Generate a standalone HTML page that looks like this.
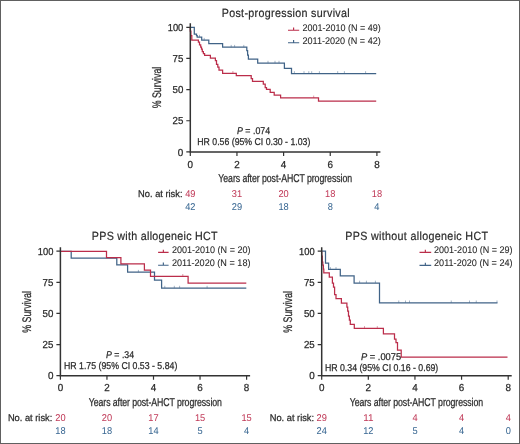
<!DOCTYPE html>
<html><head><meta charset="utf-8"><title>Post-progression survival</title>
<style>html,body{margin:0;padding:0;background:#fff;width:520px;height:444px;overflow:hidden;font-family:"Liberation Sans", sans-serif;}</style>
</head><body>
<svg width="520" height="444" viewBox="0 0 520 444" style="will-change:transform;text-rendering:geometricPrecision;display:block;font-family:'Liberation Sans', sans-serif">
<rect x="0" y="0" width="520" height="444" fill="#ffffff"/>
<path d="M190.3,27.3 H194.3 V34 H196.5 V35.5 H197.2 V37.1 H201.7 V40.2 H208.8 V43.6 H222.6 V47.2 H246.8 V50.5 H247.6 V55 H248.4 V59.1 H257.7 V63.1 H284.4 V68.3 H291.5 V73.5 H376.2" fill="none" stroke="#406387" stroke-width="1.25" stroke-linejoin="miter"/>
<path d="M199.5,37.1 V34.8 M204.2,40.2 V37.9 M231.2,47.2 V44.9 M234.6,47.2 V44.9 M243.8,47.2 V44.9 M268,63.1 V60.8 M275,63.1 V60.8 M279,63.1 V60.8 M294.4,73.5 V71.2 M304,73.5 V71.2 M308.8,73.5 V71.2 M311.7,73.5 V71.2 M319.4,73.5 V71.2 M337.7,73.5 V71.2 M344.4,73.5 V71.2 M365.6,73.5 V71.2 " fill="none" stroke="#406387" stroke-width="0.6" opacity="0.8"/>
<path d="M190.3,27.3 V31 H190.9 V35.5 H191.8 V40.2 H198.4 V42.1 H199.5 V44.8 H200.7 V47.1 H201.5 V49.2 H202.3 V51.5 H203.4 V53.5 H204.6 V55.3 H210.4 V58 H215.4 V60.5 H216.5 V64.3 H217.8 V67 H219 V70.2 H222.6 V73.3 H236.3 V75.7 H251.2 V78.5 H252.5 V81.3 H263.3 V84 H265.2 V87.5 H266.5 V89.4 H270.2 V92.3 H274.2 V95.2 H280.6 V97.9 H318.5 V101 H376.2" fill="none" stroke="#bb2d4a" stroke-width="1.25" stroke-linejoin="miter"/>
<path d="M232.9,73.3 V71.0 M313.7,97.9 V95.6 " fill="none" stroke="#bb2d4a" stroke-width="0.6" opacity="0.8"/>
<path d="M190.3,23.3 V151.9 H380.4" fill="none" stroke="#333333" stroke-width="1.5"/>
<path d="M186.3,151.90 H190.3 M190.30,151.9 V155.9 M186.3,120.75 H190.3 M236.95,151.9 V155.9 M186.3,89.60 H190.3 M283.60,151.9 V155.9 M186.3,58.45 H190.3 M330.25,151.9 V155.9 M186.3,27.30 H190.3 M376.90,151.9 V155.9 " fill="none" stroke="#333333" stroke-width="1.2"/>
<text x="183.3" y="155.6" font-size="10.1" fill="#2a2a2a" stroke="#2a2a2a" stroke-width="0.25" text-anchor="end" textLength="5.5" lengthAdjust="spacingAndGlyphs" >0</text>
<text x="183.3" y="124.45" font-size="10.1" fill="#2a2a2a" stroke="#2a2a2a" stroke-width="0.25" text-anchor="end" textLength="10.8" lengthAdjust="spacingAndGlyphs" >25</text>
<text x="183.3" y="93.3" font-size="10.1" fill="#2a2a2a" stroke="#2a2a2a" stroke-width="0.25" text-anchor="end" textLength="10.8" lengthAdjust="spacingAndGlyphs" >50</text>
<text x="183.3" y="62.15" font-size="10.1" fill="#2a2a2a" stroke="#2a2a2a" stroke-width="0.25" text-anchor="end" textLength="10.8" lengthAdjust="spacingAndGlyphs" >75</text>
<text x="183.3" y="31.0" font-size="10.1" fill="#2a2a2a" stroke="#2a2a2a" stroke-width="0.25" text-anchor="end" textLength="15.6" lengthAdjust="spacingAndGlyphs" >100</text>
<text x="190.3" y="167.70000000000002" font-size="10.1" fill="#2a2a2a" stroke="#2a2a2a" stroke-width="0.25" text-anchor="middle" textLength="5.5" lengthAdjust="spacingAndGlyphs" >0</text>
<text x="236.95" y="167.70000000000002" font-size="10.1" fill="#2a2a2a" stroke="#2a2a2a" stroke-width="0.25" text-anchor="middle" textLength="5.5" lengthAdjust="spacingAndGlyphs" >2</text>
<text x="283.6" y="167.70000000000002" font-size="10.1" fill="#2a2a2a" stroke="#2a2a2a" stroke-width="0.25" text-anchor="middle" textLength="5.5" lengthAdjust="spacingAndGlyphs" >4</text>
<text x="330.25" y="167.70000000000002" font-size="10.1" fill="#2a2a2a" stroke="#2a2a2a" stroke-width="0.25" text-anchor="middle" textLength="5.5" lengthAdjust="spacingAndGlyphs" >6</text>
<text x="376.9" y="167.70000000000002" font-size="10.1" fill="#2a2a2a" stroke="#2a2a2a" stroke-width="0.25" text-anchor="middle" textLength="5.5" lengthAdjust="spacingAndGlyphs" >8</text>
<path d="M60.4,251.3 H71.2 V258.1 H116.8 V264.8 H127.6 V272.2 H154.5 V280 H161.6 V288.1 H246.3" fill="none" stroke="#406387" stroke-width="1.25" stroke-linejoin="miter"/>
<path d="M138.4,272.2 V269.9 M164.8,288.1 V285.8 M174.3,288.1 V285.8 M179.6,288.1 V285.8 M207.1,288.1 V285.8 " fill="none" stroke="#406387" stroke-width="0.6" opacity="0.8"/>
<path d="M60.4,251.3 H106.5 V257.7 H120.9 V263.9 H144.4 V270.2 H150.5 V276.3 H188.1 V283.2 H246.3" fill="none" stroke="#bb2d4a" stroke-width="1.25" stroke-linejoin="miter"/>
<path d="M182.8,276.3 V274.0 " fill="none" stroke="#bb2d4a" stroke-width="0.6" opacity="0.8"/>
<path d="M60.4,247.2 V375.7 H250.1" fill="none" stroke="#333333" stroke-width="1.5"/>
<path d="M56.4,375.70 H60.4 M60.40,375.7 V379.7 M56.4,344.57 H60.4 M106.95,375.7 V379.7 M56.4,313.45 H60.4 M153.50,375.7 V379.7 M56.4,282.32 H60.4 M200.05,375.7 V379.7 M56.4,251.20 H60.4 M246.60,375.7 V379.7 " fill="none" stroke="#333333" stroke-width="1.2"/>
<text x="53.4" y="379.4" font-size="10.1" fill="#2a2a2a" stroke="#2a2a2a" stroke-width="0.25" text-anchor="end" textLength="5.5" lengthAdjust="spacingAndGlyphs" >0</text>
<text x="53.4" y="348.27" font-size="10.1" fill="#2a2a2a" stroke="#2a2a2a" stroke-width="0.25" text-anchor="end" textLength="10.8" lengthAdjust="spacingAndGlyphs" >25</text>
<text x="53.4" y="317.15" font-size="10.1" fill="#2a2a2a" stroke="#2a2a2a" stroke-width="0.25" text-anchor="end" textLength="10.8" lengthAdjust="spacingAndGlyphs" >50</text>
<text x="53.4" y="286.02" font-size="10.1" fill="#2a2a2a" stroke="#2a2a2a" stroke-width="0.25" text-anchor="end" textLength="10.8" lengthAdjust="spacingAndGlyphs" >75</text>
<text x="53.4" y="254.9" font-size="10.1" fill="#2a2a2a" stroke="#2a2a2a" stroke-width="0.25" text-anchor="end" textLength="15.6" lengthAdjust="spacingAndGlyphs" >100</text>
<text x="60.4" y="391.09999999999997" font-size="10.1" fill="#2a2a2a" stroke="#2a2a2a" stroke-width="0.25" text-anchor="middle" textLength="5.5" lengthAdjust="spacingAndGlyphs" >0</text>
<text x="106.95" y="391.09999999999997" font-size="10.1" fill="#2a2a2a" stroke="#2a2a2a" stroke-width="0.25" text-anchor="middle" textLength="5.5" lengthAdjust="spacingAndGlyphs" >2</text>
<text x="153.5" y="391.09999999999997" font-size="10.1" fill="#2a2a2a" stroke="#2a2a2a" stroke-width="0.25" text-anchor="middle" textLength="5.5" lengthAdjust="spacingAndGlyphs" >4</text>
<text x="200.05" y="391.09999999999997" font-size="10.1" fill="#2a2a2a" stroke="#2a2a2a" stroke-width="0.25" text-anchor="middle" textLength="5.5" lengthAdjust="spacingAndGlyphs" >6</text>
<text x="246.6" y="391.09999999999997" font-size="10.1" fill="#2a2a2a" stroke="#2a2a2a" stroke-width="0.25" text-anchor="middle" textLength="5.5" lengthAdjust="spacingAndGlyphs" >8</text>
<path d="M321.7,251.2 H325.5 V263.1 H328.6 V269.4 H340.3 V275.8 H354.1 V283 H379.5 V302.8 H497.5" fill="none" stroke="#406387" stroke-width="1.25" stroke-linejoin="miter"/>
<path d="M330.4,269.4 V267.1 M336,269.4 V267.1 M359.6,283 V280.7 M366.4,283 V280.7 M375.4,283 V280.7 M398.75,302.8 V300.5 M405.5,302.8 V300.5 M409.5,302.8 V300.5 M451.25,302.8 V300.5 M469.5,302.8 V300.5 M476.25,302.8 V300.5 M497,302.8 V300.5 " fill="none" stroke="#406387" stroke-width="0.6" opacity="0.8"/>
<path d="M321.7,251.2 V256 H322.3 V262 H322.8 V265 H323.4 V269 H323.8 V272.8 H329.3 V277 H332.4 V283 H333.5 V287 H334.6 V294.5 H336 V298.5 H341.4 V303 H346.9 V307 H347.7 V311 H348.5 V316 H349.4 V320 H350.3 V324.3 H354.3 V328.4 H383.4 V333.8 H394.5 V339 H396 V342.5 H397.5 V350 H401.2 V357 H507.5" fill="none" stroke="#bb2d4a" stroke-width="1.25" stroke-linejoin="miter"/>
<path d="M364.5,328.4 V326.1 M377.3,328.4 V326.1 " fill="none" stroke="#bb2d4a" stroke-width="0.6" opacity="0.8"/>
<path d="M321.7,247.2 V375.7 H511.7" fill="none" stroke="#333333" stroke-width="1.5"/>
<path d="M317.7,375.70 H321.7 M321.70,375.7 V379.7 M317.7,344.57 H321.7 M368.32,375.7 V379.7 M317.7,313.45 H321.7 M414.95,375.7 V379.7 M317.7,282.32 H321.7 M461.57,375.7 V379.7 M317.7,251.20 H321.7 M508.20,375.7 V379.7 " fill="none" stroke="#333333" stroke-width="1.2"/>
<text x="314.7" y="379.4" font-size="10.1" fill="#2a2a2a" stroke="#2a2a2a" stroke-width="0.25" text-anchor="end" textLength="5.5" lengthAdjust="spacingAndGlyphs" >0</text>
<text x="314.7" y="348.27" font-size="10.1" fill="#2a2a2a" stroke="#2a2a2a" stroke-width="0.25" text-anchor="end" textLength="10.8" lengthAdjust="spacingAndGlyphs" >25</text>
<text x="314.7" y="317.15" font-size="10.1" fill="#2a2a2a" stroke="#2a2a2a" stroke-width="0.25" text-anchor="end" textLength="10.8" lengthAdjust="spacingAndGlyphs" >50</text>
<text x="314.7" y="286.02" font-size="10.1" fill="#2a2a2a" stroke="#2a2a2a" stroke-width="0.25" text-anchor="end" textLength="10.8" lengthAdjust="spacingAndGlyphs" >75</text>
<text x="314.7" y="254.9" font-size="10.1" fill="#2a2a2a" stroke="#2a2a2a" stroke-width="0.25" text-anchor="end" textLength="15.6" lengthAdjust="spacingAndGlyphs" >100</text>
<text x="321.7" y="391.09999999999997" font-size="10.1" fill="#2a2a2a" stroke="#2a2a2a" stroke-width="0.25" text-anchor="middle" textLength="5.5" lengthAdjust="spacingAndGlyphs" >0</text>
<text x="368.32" y="391.09999999999997" font-size="10.1" fill="#2a2a2a" stroke="#2a2a2a" stroke-width="0.25" text-anchor="middle" textLength="5.5" lengthAdjust="spacingAndGlyphs" >2</text>
<text x="414.95" y="391.09999999999997" font-size="10.1" fill="#2a2a2a" stroke="#2a2a2a" stroke-width="0.25" text-anchor="middle" textLength="5.5" lengthAdjust="spacingAndGlyphs" >4</text>
<text x="461.57" y="391.09999999999997" font-size="10.1" fill="#2a2a2a" stroke="#2a2a2a" stroke-width="0.25" text-anchor="middle" textLength="5.5" lengthAdjust="spacingAndGlyphs" >6</text>
<text x="508.2" y="391.09999999999997" font-size="10.1" fill="#2a2a2a" stroke="#2a2a2a" stroke-width="0.25" text-anchor="middle" textLength="5.5" lengthAdjust="spacingAndGlyphs" >8</text>
<text x="0" y="0" font-size="11.9" fill="#2a2a2a" stroke="#2a2a2a" stroke-width="0.2" textLength="142.22" lengthAdjust="spacing" transform="translate(221.7,17.3) scale(0.9,1)">Post-progression survival</text>
<text x="0" y="0" font-size="11.9" fill="#2a2a2a" stroke="#2a2a2a" stroke-width="0.2" textLength="139.78" lengthAdjust="spacing" transform="translate(91.8,239.8) scale(0.9,1)">PPS with allogeneic HCT</text>
<text x="0" y="0" font-size="11.9" fill="#2a2a2a" stroke="#2a2a2a" stroke-width="0.2" textLength="158.67" lengthAdjust="spacing" transform="translate(345.2,239.8) scale(0.9,1)">PPS without allogeneic HCT</text>
<path d="M288,30.2 H299.2 M293.6,30.2 V27.599999999999998" stroke="#bb2d4a" stroke-width="1.15" fill="none"/>
<path d="M288,42.7 H299.2 M293.6,42.7 V40.1" stroke="#406387" stroke-width="1.15" fill="none"/>
<text x="302.4" y="31.2" font-size="9.6" fill="#2a2a2a" stroke="#2a2a2a" stroke-width="0.08" textLength="78.4" lengthAdjust="spacingAndGlyphs" >2001-2010 (N = 49)</text>
<text x="302.4" y="43.7" font-size="9.6" fill="#2a2a2a" stroke="#2a2a2a" stroke-width="0.08" textLength="78.4" lengthAdjust="spacingAndGlyphs" >2011-2020 (N = 42)</text>
<path d="M158.1,252.4 H168.6 M163.35,252.4 V249.8" stroke="#bb2d4a" stroke-width="1.15" fill="none"/>
<path d="M158.1,265.2 H168.6 M163.35,265.2 V262.59999999999997" stroke="#406387" stroke-width="1.15" fill="none"/>
<text x="171.9" y="253.4" font-size="9.6" fill="#2a2a2a" stroke="#2a2a2a" stroke-width="0.08" textLength="78.6" lengthAdjust="spacingAndGlyphs" >2001-2010 (N = 20)</text>
<text x="171.9" y="266.2" font-size="9.6" fill="#2a2a2a" stroke="#2a2a2a" stroke-width="0.08" textLength="78.6" lengthAdjust="spacingAndGlyphs" >2011-2020 (N = 18)</text>
<path d="M419.5,252.3 H431.2 M425.35,252.3 V249.70000000000002" stroke="#bb2d4a" stroke-width="1.15" fill="none"/>
<path d="M419.5,265.4 H431.2 M425.35,265.4 V262.79999999999995" stroke="#406387" stroke-width="1.15" fill="none"/>
<text x="434.0" y="253.3" font-size="9.6" fill="#2a2a2a" stroke="#2a2a2a" stroke-width="0.08" textLength="78.6" lengthAdjust="spacingAndGlyphs" >2001-2010 (N = 29)</text>
<text x="434.0" y="266.4" font-size="9.6" fill="#2a2a2a" stroke="#2a2a2a" stroke-width="0.08" textLength="78.6" lengthAdjust="spacingAndGlyphs" >2011-2020 (N = 24)</text>
<text x="0" y="0" font-size="12.4" fill="#2a2a2a" stroke="#2a2a2a" stroke-width="0.25" text-anchor="middle" textLength="41.5" lengthAdjust="spacingAndGlyphs" transform="translate(161.3,87.5) rotate(-90)">% Survival</text>
<text x="0" y="0" font-size="12.4" fill="#2a2a2a" stroke="#2a2a2a" stroke-width="0.25" text-anchor="middle" textLength="41.5" lengthAdjust="spacingAndGlyphs" transform="translate(31.1,311.9) rotate(-90)">% Survival</text>
<text x="0" y="0" font-size="12.4" fill="#2a2a2a" stroke="#2a2a2a" stroke-width="0.25" text-anchor="middle" textLength="41.5" lengthAdjust="spacingAndGlyphs" transform="translate(292.4,311.9) rotate(-90)">% Survival</text>
<text x="0" y="0" font-size="11.4" fill="#2a2a2a" stroke="#2a2a2a" stroke-width="0.25" textLength="173.77" lengthAdjust="spacing" transform="translate(218.3,182.3) scale(0.77,1)">Years after post-AHCT progression</text>
<text x="0" y="0" font-size="11.4" fill="#2a2a2a" stroke="#2a2a2a" stroke-width="0.25" textLength="172.86" lengthAdjust="spacing" transform="translate(88.8,406.3) scale(0.77,1)">Years after post-AHCT progression</text>
<text x="0" y="0" font-size="11.4" fill="#2a2a2a" stroke="#2a2a2a" stroke-width="0.25" textLength="173.25" lengthAdjust="spacing" transform="translate(349.7,406.3) scale(0.77,1)">Years after post-AHCT progression</text>
<text x="237.0" y="133.8" font-size="9.8" fill="#2a2a2a" stroke="#2a2a2a" stroke-width="0.25" textLength="33.1" lengthAdjust="spacingAndGlyphs"><tspan font-style="italic">P</tspan> = .074</text>
<text x="197.3" y="144.9" font-size="9.9" fill="#2a2a2a" stroke="#2a2a2a" stroke-width="0.25" textLength="113" lengthAdjust="spacingAndGlyphs" >HR 0.56 (95% CI 0.30 - 1.03)</text>
<text x="106.1" y="357.6" font-size="9.8" fill="#2a2a2a" stroke="#2a2a2a" stroke-width="0.25" textLength="28" lengthAdjust="spacingAndGlyphs"><tspan font-style="italic">P</tspan> = .34</text>
<text x="64.0" y="368.7" font-size="9.9" fill="#2a2a2a" stroke="#2a2a2a" stroke-width="0.25" textLength="113.3" lengthAdjust="spacingAndGlyphs" >HR 1.75 (95% CI 0.53 - 5.84)</text>
<text x="361.1" y="360" font-size="9.8" fill="#2a2a2a" stroke="#2a2a2a" stroke-width="0.25" textLength="40" lengthAdjust="spacingAndGlyphs"><tspan font-style="italic">P</tspan> = .0075</text>
<text x="324.9" y="370.6" font-size="9.9" fill="#2a2a2a" stroke="#2a2a2a" stroke-width="0.25" textLength="113.4" lengthAdjust="spacingAndGlyphs" >HR 0.34 (95% CI 0.16 - 0.69)</text>
<text x="138.1" y="197.2" font-size="9.7" fill="#2a2a2a" stroke="#2a2a2a" stroke-width="0.25" textLength="44.4" lengthAdjust="spacingAndGlyphs" >No. at risk:</text>
<text x="190.3" y="197.2" font-size="9.9" fill="#c03a58" stroke="#c03a58" stroke-width="0.03" text-anchor="middle" textLength="10.3" lengthAdjust="spacingAndGlyphs" >49</text>
<text x="190.3" y="210.4" font-size="9.9" fill="#3a6893" stroke="#3a6893" stroke-width="0.03" text-anchor="middle" textLength="10.3" lengthAdjust="spacingAndGlyphs" >42</text>
<text x="236.95" y="197.2" font-size="9.9" fill="#c03a58" stroke="#c03a58" stroke-width="0.03" text-anchor="middle" textLength="10.3" lengthAdjust="spacingAndGlyphs" >31</text>
<text x="236.95" y="210.4" font-size="9.9" fill="#3a6893" stroke="#3a6893" stroke-width="0.03" text-anchor="middle" textLength="10.3" lengthAdjust="spacingAndGlyphs" >29</text>
<text x="283.6" y="197.2" font-size="9.9" fill="#c03a58" stroke="#c03a58" stroke-width="0.03" text-anchor="middle" textLength="10.3" lengthAdjust="spacingAndGlyphs" >20</text>
<text x="283.6" y="210.4" font-size="9.9" fill="#3a6893" stroke="#3a6893" stroke-width="0.03" text-anchor="middle" textLength="10.3" lengthAdjust="spacingAndGlyphs" >18</text>
<text x="330.25" y="197.2" font-size="9.9" fill="#c03a58" stroke="#c03a58" stroke-width="0.03" text-anchor="middle" textLength="10.3" lengthAdjust="spacingAndGlyphs" >18</text>
<text x="330.25" y="210.4" font-size="9.9" fill="#3a6893" stroke="#3a6893" stroke-width="0.03" text-anchor="middle" textLength="5.15" lengthAdjust="spacingAndGlyphs" >8</text>
<text x="376.9" y="197.2" font-size="9.9" fill="#c03a58" stroke="#c03a58" stroke-width="0.03" text-anchor="middle" textLength="10.3" lengthAdjust="spacingAndGlyphs" >18</text>
<text x="376.9" y="210.4" font-size="9.9" fill="#3a6893" stroke="#3a6893" stroke-width="0.03" text-anchor="middle" textLength="5.15" lengthAdjust="spacingAndGlyphs" >4</text>
<text x="7.9" y="421.2" font-size="9.7" fill="#2a2a2a" stroke="#2a2a2a" stroke-width="0.25" textLength="44.4" lengthAdjust="spacingAndGlyphs" >No. at risk:</text>
<text x="60.4" y="421.2" font-size="9.9" fill="#c03a58" stroke="#c03a58" stroke-width="0.03" text-anchor="middle" textLength="10.3" lengthAdjust="spacingAndGlyphs" >20</text>
<text x="60.4" y="434.1" font-size="9.9" fill="#3a6893" stroke="#3a6893" stroke-width="0.03" text-anchor="middle" textLength="10.3" lengthAdjust="spacingAndGlyphs" >18</text>
<text x="106.95" y="421.2" font-size="9.9" fill="#c03a58" stroke="#c03a58" stroke-width="0.03" text-anchor="middle" textLength="10.3" lengthAdjust="spacingAndGlyphs" >20</text>
<text x="106.95" y="434.1" font-size="9.9" fill="#3a6893" stroke="#3a6893" stroke-width="0.03" text-anchor="middle" textLength="10.3" lengthAdjust="spacingAndGlyphs" >18</text>
<text x="153.5" y="421.2" font-size="9.9" fill="#c03a58" stroke="#c03a58" stroke-width="0.03" text-anchor="middle" textLength="10.3" lengthAdjust="spacingAndGlyphs" >17</text>
<text x="153.5" y="434.1" font-size="9.9" fill="#3a6893" stroke="#3a6893" stroke-width="0.03" text-anchor="middle" textLength="10.3" lengthAdjust="spacingAndGlyphs" >14</text>
<text x="200.05" y="421.2" font-size="9.9" fill="#c03a58" stroke="#c03a58" stroke-width="0.03" text-anchor="middle" textLength="10.3" lengthAdjust="spacingAndGlyphs" >15</text>
<text x="200.05" y="434.1" font-size="9.9" fill="#3a6893" stroke="#3a6893" stroke-width="0.03" text-anchor="middle" textLength="5.15" lengthAdjust="spacingAndGlyphs" >5</text>
<text x="246.6" y="421.2" font-size="9.9" fill="#c03a58" stroke="#c03a58" stroke-width="0.03" text-anchor="middle" textLength="10.3" lengthAdjust="spacingAndGlyphs" >15</text>
<text x="246.6" y="434.1" font-size="9.9" fill="#3a6893" stroke="#3a6893" stroke-width="0.03" text-anchor="middle" textLength="5.15" lengthAdjust="spacingAndGlyphs" >4</text>
<text x="269.7" y="421.2" font-size="9.7" fill="#2a2a2a" stroke="#2a2a2a" stroke-width="0.25" textLength="44.4" lengthAdjust="spacingAndGlyphs" >No. at risk:</text>
<text x="321.7" y="421.2" font-size="9.9" fill="#c03a58" stroke="#c03a58" stroke-width="0.03" text-anchor="middle" textLength="10.3" lengthAdjust="spacingAndGlyphs" >29</text>
<text x="321.7" y="434.1" font-size="9.9" fill="#3a6893" stroke="#3a6893" stroke-width="0.03" text-anchor="middle" textLength="10.3" lengthAdjust="spacingAndGlyphs" >24</text>
<text x="368.32" y="421.2" font-size="9.9" fill="#c03a58" stroke="#c03a58" stroke-width="0.03" text-anchor="middle" textLength="10.3" lengthAdjust="spacingAndGlyphs" >11</text>
<text x="368.32" y="434.1" font-size="9.9" fill="#3a6893" stroke="#3a6893" stroke-width="0.03" text-anchor="middle" textLength="10.3" lengthAdjust="spacingAndGlyphs" >12</text>
<text x="414.95" y="421.2" font-size="9.9" fill="#c03a58" stroke="#c03a58" stroke-width="0.03" text-anchor="middle" textLength="5.15" lengthAdjust="spacingAndGlyphs" >4</text>
<text x="414.95" y="434.1" font-size="9.9" fill="#3a6893" stroke="#3a6893" stroke-width="0.03" text-anchor="middle" textLength="5.15" lengthAdjust="spacingAndGlyphs" >5</text>
<text x="461.57" y="421.2" font-size="9.9" fill="#c03a58" stroke="#c03a58" stroke-width="0.03" text-anchor="middle" textLength="5.15" lengthAdjust="spacingAndGlyphs" >4</text>
<text x="461.57" y="434.1" font-size="9.9" fill="#3a6893" stroke="#3a6893" stroke-width="0.03" text-anchor="middle" textLength="5.15" lengthAdjust="spacingAndGlyphs" >4</text>
<text x="508.2" y="421.2" font-size="9.9" fill="#c03a58" stroke="#c03a58" stroke-width="0.03" text-anchor="middle" textLength="5.15" lengthAdjust="spacingAndGlyphs" >4</text>
<text x="508.2" y="434.1" font-size="9.9" fill="#3a6893" stroke="#3a6893" stroke-width="0.03" text-anchor="middle" textLength="5.15" lengthAdjust="spacingAndGlyphs" >0</text>
<rect x="0.5" y="0.5" width="519" height="443" fill="none" stroke="#606060" stroke-width="1"/>
</svg>
</body></html>
